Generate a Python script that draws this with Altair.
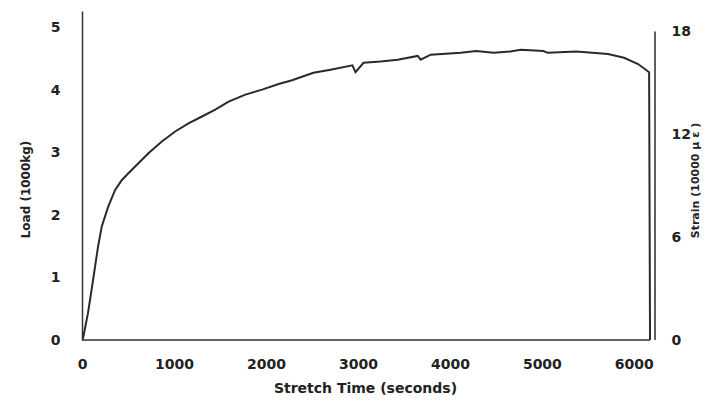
import altair as alt
import pandas as pd

# Load curve (time in seconds, load in 1000 kg)
time_s = [10, 65, 120, 174, 215, 286, 359, 432, 504, 613, 722, 868, 1013,
          1158, 1304, 1449, 1594, 1776, 1958, 2138, 2284, 2516, 2702, 2940,
          2974, 3061, 3246, 3431, 3650, 3682, 3791, 4118, 4286, 4477, 4656,
          4771, 5016, 5065, 5376, 5719, 5893, 6046, 6166, 6176]
load_t = [0.02, 0.43, 0.96, 1.49, 1.82, 2.14, 2.40, 2.56, 2.67, 2.83, 2.99,
          3.18, 3.34, 3.47, 3.58, 3.69, 3.82, 3.93, 4.01, 4.10, 4.16, 4.28,
          4.33, 4.40, 4.29, 4.44, 4.46, 4.49, 4.55, 4.49, 4.57, 4.60, 4.63,
          4.60, 4.62, 4.65, 4.63, 4.60, 4.62, 4.58, 4.52, 4.42, 4.29, 0.0]

time_ticks = [0, 1000, 2000, 3000, 4000, 5000, 6000]
load_ticks = [0, 1, 2, 3, 4, 5]
strain_ticks = [0, 6, 12, 18]
time_max = 6230
time_axis_end = 6176
strain_axis_top = 18

df = pd.DataFrame({"t": time_s, "load": load_t, "i": list(range(len(time_s)))})
right_df = pd.DataFrame({"t": [time_max], "lo": [0], "hi": [strain_axis_top]})
bottom_df = pd.DataFrame({"t": [0], "t1": [time_axis_end], "load": [0]})

ink = "#2a2a2a"
x_scale = alt.Scale(domain=[0, time_max], nice=False, zero=False)
load_scale = alt.Scale(domain=[0, 5.27], nice=False)
x_axis = alt.Axis(values=time_ticks, format="d", title="Stretch Time (seconds)",
                  domain=False, ticks=False, tickSize=0, grid=False,
                  labelPadding=17, labelFlush=False,
                  titleFontSize=14, titleX=283, titleY=48,
                  titleBaseline="middle", titleAlign="center")
load_axis = alt.Axis(values=load_ticks, title="Load (1000kg)", ticks=False,
                     domain=True, tickSize=0, grid=False, labelPadding=22,
                     titleFontSize=12, titleX=-57, titleY=178,
                     titleAngle=-90, titleBaseline="middle",
                     titleAlign="center")

load_chart = alt.Chart(df).mark_line(color=ink, strokeWidth=2).encode(
    x=alt.X("t:Q", scale=x_scale, axis=x_axis),
    y=alt.Y("load:Q", scale=load_scale, axis=load_axis),
    order="i:Q",
)

bottom_axis = alt.Chart(bottom_df).mark_rule(color="#333333", strokeWidth=1.5).encode(
    x=alt.X("t:Q", scale=x_scale, axis=x_axis),
    x2="t1:Q",
    y=alt.Y("load:Q", scale=load_scale, axis=load_axis),
)

right_axis = alt.Chart(right_df).mark_rule(color=ink, strokeWidth=1.5).encode(
    x=alt.X("t:Q", scale=x_scale, axis=x_axis),
    y=alt.Y("lo:Q", scale=alt.Scale(domain=[0, 19.2], nice=False),
            axis=alt.Axis(orient="right", values=strain_ticks,
                          title="Strain (10000 μ ε )", domain=False,
                          ticks=False, tickSize=0, grid=False, labelPadding=16,
                          titleFontSize=11, titleX=40, titleY=169,
                          titleAngle=-90, titleBaseline="middle",
                          titleAlign="center")),
    y2="hi:Q",
)

left = alt.layer(load_chart, bottom_axis)
chart = alt.layer(left, right_axis).resolve_scale(y="independent").properties(
    width=573, height=329,
    autosize=alt.AutoSizeParams(type="none"),
    padding={"left": 74, "top": 3, "right": 49, "bottom": 55},
    background="white",
).configure_view(stroke=None).configure_axis(
    labelFont="DejaVu Sans", labelFontWeight="bold", labelFontSize=14,
    labelColor="#222222", titleFont="DejaVu Sans", titleFontWeight="bold",
    titleColor="#222222", domainColor="#333333", domainWidth=1.5,
)

chart.save("out.html", embed_options={"renderer": "svg", "actions": False})
